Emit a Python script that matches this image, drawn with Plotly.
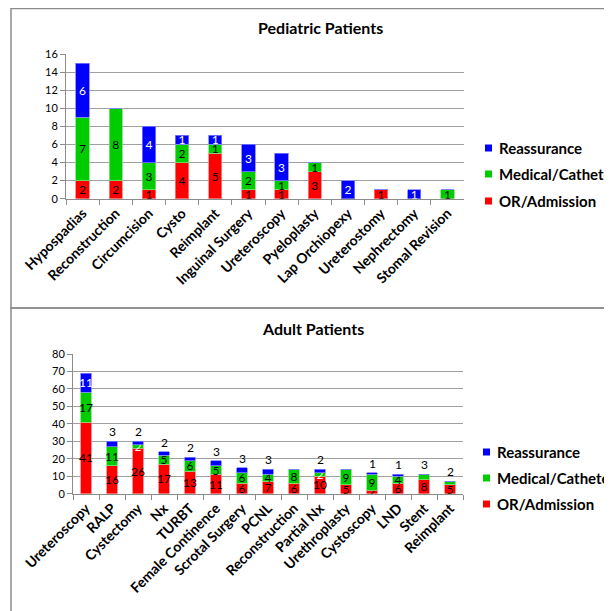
import plotly.graph_objects as go

# ---------------- data ----------------
ped_cats = ["Hypospadias", "Reconstruction", "Circumcision", "Cysto", "Reimplant",
            "Inguinal Surgery", "Ureteroscopy", "Pyeloplasty", "Lap Orchiopexy",
            "Ureterostomy", "Nephrectomy", "Stomal Revision"]
ped_or = [2, 2, 1, 4, 5, 1, 1, 3, 0, 1, 0, 0]
ped_med = [7, 8, 3, 2, 1, 2, 1, 1, 0, 0, 0, 1]
ped_reas = [6, 0, 4, 1, 1, 3, 3, 0, 2, 0, 1, 0]

adult_cats = ["Ureteroscopy", "RALP", "Cystectomy", "Nx", "TURBT", "Female Continence",
              "Scrotal Surgery", "PCNL", "Reconstruction", "Partial Nx", "Urethroplasty",
              "Cystoscopy", "LND", "Stent", "Reimplant"]
adult_or = [41, 16, 26, 17, 13, 11, 6, 7, 6, 10, 5, 2, 6, 8, 5]
adult_med = [17, 11, 2, 5, 6, 5, 6, 4, 8, 2, 9, 9, 4, 3, 2]
adult_reas = [11, 3, 2, 2, 2, 3, 3, 3, 0, 2, 0, 1, 1, 0, 0]

series_names = ["OR/Admission", "Medical/Catheter", "Reassurance"]
colors = ["#FF0000", "#00CC00", "#0000FF"]
edge_colors = ["#FF8080", "#80E080", "#8080FF"]

FONT = "Lato, 'Open Sans', sans-serif"
# the page body has an 8px margin; the figure fills the rest of the window
OFF = 8
W, H = 612 - OFF, 611 - OFF


def px(x):
    return (x - OFF) / W


def py(y):
    return 1 - (y - OFF) / H


fig = go.Figure()


def lab(v):
    return "" if v == 0 else str(v)


# ---------------- pediatric ----------------
ped_series = [ped_or, ped_med, ped_reas]
for i, vals in enumerate(ped_series):
    fig.add_trace(go.Bar(
        x=ped_cats, y=vals, name=series_names[i],
        marker=dict(color=colors[i], line=dict(color=edge_colors[i], width=0.8)),
        width=0.4,
        text=[lab(v) for v in vals],
        textposition="inside", insidetextanchor="middle", textangle=0,
        textfont=dict(family=FONT, size=12, color="white" if i == 2 else "black"),
        xaxis="x", yaxis="y", showlegend=False,
        hoverinfo="x+y+name",
    ))

# ---------------- adult ----------------
adult_series = [adult_or, adult_med, adult_reas]
n = len(adult_cats)
top_val = []
for k in range(n):
    top_val.append(adult_reas[k] if adult_reas[k] > 0 else adult_med[k])

for i, vals in enumerate(adult_series):
    texts = []
    tcolors = []
    for k in range(n):
        v = vals[k]
        is_top = (i == 2 and adult_reas[k] > 0) or (i == 1 and adult_reas[k] == 0)
        if v == 0 or (is_top and v < 4):
            texts.append("")
        else:
            texts.append(str(v))
        if i == 2:
            tcolors.append("white")
        elif i == 1 and v <= 2 and adult_reas[k] > 0:
            tcolors.append("white")
        else:
            tcolors.append("black")
    fig.add_trace(go.Bar(
        x=adult_cats, y=vals, name=series_names[i],
        marker=dict(color=colors[i], line=dict(color=edge_colors[i], width=0.8)),
        width=0.4,
        text=texts,
        textposition="inside", insidetextanchor="middle", textangle=0,
        textfont=dict(family=FONT, size=12, color=tcolors),
        xaxis="x2", yaxis="y2", showlegend=False,
        hoverinfo="x+y+name",
    ))

annotations = []
for k in range(n):
    if top_val[k] < 4:
        total = adult_or[k] + adult_med[k] + adult_reas[k]
        annotations.append(dict(
            x=adult_cats[k], y=total, xref="x2", yref="y2",
            text=str(top_val[k]), showarrow=False, xanchor="center", yanchor="bottom",
            yshift=0, font=dict(family=FONT, size=12, color="black")))

# titles
annotations.append(dict(x=px(320), y=py(28), xref="paper", yref="paper",
                        text="<b>Pediatric Patients</b>", showarrow=False,
                        xanchor="center", yanchor="middle",
                        font=dict(family=FONT, size=16, color="black")))
annotations.append(dict(x=px(313), y=py(328), xref="paper", yref="paper",
                        text="<b>Adult Patients</b>", showarrow=False,
                        xanchor="center", yanchor="middle",
                        font=dict(family=FONT, size=16, color="black")))

shapes = [
    dict(type="rect", xref="paper", yref="paper", x0=px(11), x1=1.1, y0=py(308), y1=py(8.5),
         line=dict(color="#8C8C8C", width=1.5), fillcolor="rgba(0,0,0,0)", layer="below"),
    dict(type="rect", xref="paper", yref="paper", x0=px(11), x1=1.1, y0=-0.1, y1=py(308),
         line=dict(color="#8C8C8C", width=1.5), fillcolor="rgba(0,0,0,0)", layer="below"),
]

# manual legends (Reassurance on top)
legend_order = [2, 1, 0]
for ys, x_mark in (([148, 174, 201], 485), ([452, 478, 504], 483)):
    for j, si in enumerate(legend_order):
        yc = ys[j]
        shapes.append(dict(type="rect", xref="paper", yref="paper",
                           x0=px(x_mark), x1=px(x_mark + 7), y0=py(yc + 3.5), y1=py(yc - 3.5),
                           line=dict(width=0), fillcolor=colors[si]))
        annotations.append(dict(x=px(x_mark + 12), y=py(yc), xref="paper", yref="paper",
                                text="<b>" + series_names[si] + "</b>", showarrow=False,
                                xanchor="left", yanchor="middle",
                                font=dict(family=FONT, size=15, color="black")))

xaxis_common = dict(
    type="category", tickangle=-45, tickson="boundaries", ticks="outside", ticklen=5,
    tickcolor="#8C8C8C", showline=True, linecolor="#8C8C8C", linewidth=1,
    showgrid=False, tickfont=dict(family=FONT, size=14, color="black", weight="bold"),
    fixedrange=True,
)
yaxis_common = dict(
    ticks="outside", ticklen=5, tickcolor="#8C8C8C", showline=True, linecolor="#8C8C8C",
    linewidth=1, showgrid=True, gridcolor="#A0A0A0", gridwidth=1,
    tickfont=dict(family=FONT, size=11, color="black"), zeroline=False, fixedrange=True,
)

fig.update_layout(
    width=W, height=H,
    margin=dict(l=0, r=0, t=0, b=0, autoexpand=False),
    paper_bgcolor="white", plot_bgcolor="white",
    barmode="stack", bargap=0.6,
    uniformtext=dict(mode="show", minsize=12),
    xaxis=dict(domain=[px(66), px(464)], anchor="y", **xaxis_common),
    yaxis=dict(domain=[py(198.7), py(54)], anchor="x", range=[0, 16], dtick=2, **yaxis_common),
    xaxis2=dict(domain=[px(73), px(463)], anchor="y2", **xaxis_common),
    yaxis2=dict(domain=[py(493.7), py(354)], anchor="x2", range=[0, 80], dtick=10, **yaxis_common),
    annotations=annotations,
    shapes=shapes,
    showlegend=False,
)

fig.write_html("out.html")
